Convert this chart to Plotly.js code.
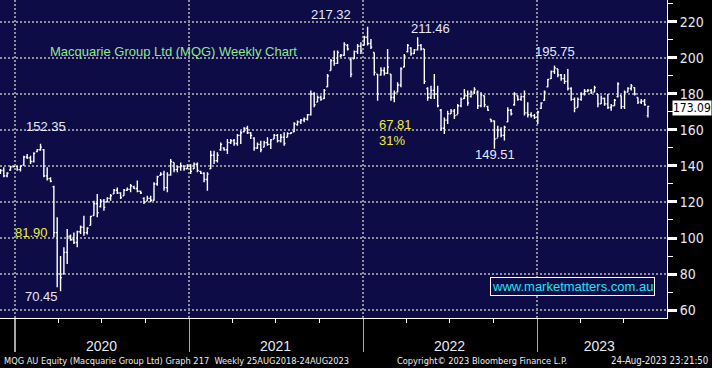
<!DOCTYPE html>
<html>
<head>
<meta charset="utf-8">
<script src="https://cdn.plot.ly/plotly-3.0.1.min.js"></script>
<style>
  html, body { margin: 0; padding: 0; background: #000; }
  #chart { width: 712px; height: 368px; }
</style>
</head>
<body>
<div id="chart"></div>
<script>
// Weekly bars, first week starting 2019-12-02
const firstWeek = '2019-12-02';
const weekCount = 195;

const openPx = [
  136.5,137.5,134.5,137.8,139.5,139.8,138.0,140.5,145.0,144.5,
  142.5,148.0,149.0,149.0,134.5,133.0,128.5,103.0,80.0,80.0,
  92.0,101.0,99.0,97.5,103.5,106.0,103.0,107.0,112.5,119.0,
  117.5,120.5,120.0,122.0,124.5,126.5,125.0,123.5,126.5,127.0,
  128.5,127.5,126.0,122.0,120.5,122.0,121.0,130.0,134.8,135.5,
  128.0,135.0,142.0,138.0,139.5,140.0,138.5,140.0,138.5,141.0,
  137.0,136.0,132.5,138.5,146.0,143.0,149.0,150.0,149.0,153.0,
  154.0,152.5,157.0,159.0,161.0,158.5,155.5,150.0,152.0,150.5,
  153.0,152.0,155.0,157.0,154.0,156.0,156.0,158.0,159.0,163.0,
  164.5,165.5,166.0,168.5,180.0,175.5,178.0,177.5,184.0,193.0,
  198.5,197.0,201.0,201.5,207.0,199.0,199.5,203.5,206.5,207.0,
  211.5,208.0,203.0,191.0,190.5,193.0,191.5,191.0,178.0,181.0,
  185.0,195.0,203.5,205.5,202.5,204.5,207.0,205.0,183.0,178.0,
  182.0,180.0,171.0,161.0,165.5,169.0,170.5,168.5,173.5,177.5,
  179.0,178.5,181.0,181.0,173.5,179.0,173.0,166.0,165.0,155.5,
  160.0,157.0,164.5,171.0,174.0,179.0,177.0,178.5,169.5,168.5,
  168.0,167.0,172.0,176.5,184.0,188.5,192.5,194.0,190.5,188.5,
  187.0,183.0,177.0,172.5,177.0,180.0,181.5,182.0,181.0,180.0,
  174.5,177.5,174.5,172.5,173.5,178.5,179.0,173.0,181.0,183.0,
  183.5,178.0,175.5,176.0,168.0
];
const highPx = [
  138.3,139.3,136.5,140.2,140.2,140.2,140.2,145.7,146.7,145.7,
  147.6,149.4,152.35,149.4,139.3,133.7,129.0,111.5,90.0,94.8,
  105.0,102.0,103.0,104.0,106.9,112.4,106.0,112.4,120.7,124.4,
  121.7,121.7,122.6,124.4,127.2,128.1,125.4,127.2,128.1,130.0,
  129.0,131.9,126.3,122.6,123.5,123.5,130.9,134.6,136.5,137.4,
  136.5,143.9,142.0,140.2,142.0,140.2,141.0,141.0,142.0,142.0,
  137.4,136.5,136.5,148.5,148.5,147.6,153.1,150.4,155.0,155.0,
  155.0,157.8,159.6,161.5,162.4,158.7,155.9,153.1,154.0,154.0,
  155.9,155.0,157.8,157.8,157.8,158.7,158.7,158.7,164.3,165.2,
  166.1,167.0,168.9,181.9,180.9,179.1,179.1,182.8,191.1,199.4,
  204.1,204.1,202.2,208.7,207.8,200.4,204.1,207.8,208.7,212.4,
  217.32,210.6,203.1,191.1,194.8,194.8,205.0,191.1,181.9,186.5,
  194.8,202.2,207.8,205.9,205.0,211.46,207.8,205.0,183.7,184.6,
  191.1,184.6,171.7,167.0,170.7,171.7,171.7,174.4,178.1,182.8,
  181.9,181.9,183.7,181.9,180.9,179.1,173.5,166.1,165.2,162.4,
  161.5,162.4,172.6,171.7,180.9,179.1,179.1,181.9,175.4,169.8,
  168.9,170.7,175.4,181.9,188.3,193.0,195.75,193.9,191.1,191.1,
  193.9,183.7,178.1,178.1,180.9,182.8,182.8,182.8,184.6,180.0,
  179.1,178.1,180.0,174.4,177.2,186.5,179.1,181.9,183.7,185.6,
  183.7,178.1,177.2,177.2,173.5
];
const lowPx = [
  135.6,133.7,133.7,137.4,139.3,137.4,137.0,140.2,143.9,141.1,
  142.0,147.6,148.5,133.7,131.9,130.9,100.4,72.6,70.45,80.0,
  85.6,98.5,96.7,94.8,102.2,101.3,102.0,106.9,112.4,111.5,
  117.0,115.2,119.8,120.7,124.4,124.4,121.7,123.5,126.3,125.4,
  127.2,125.4,124.4,118.9,120.7,119.8,120.7,129.0,134.6,126.3,
  125.4,134.6,136.5,136.5,137.4,137.4,138.3,135.6,138.3,136.5,
  135.6,131.0,126.3,138.3,141.1,142.0,148.5,148.5,146.7,152.2,
  151.3,151.3,152.2,158.7,157.8,155.0,148.5,149.4,147.6,150.4,
  151.3,149.4,155.0,153.1,153.1,151.3,155.9,157.8,158.7,162.4,
  163.3,164.3,165.2,168.0,172.6,175.4,176.3,177.2,183.7,193.0,
  195.7,196.7,200.4,201.3,204.1,189.3,199.4,202.2,202.2,206.9,
  206.9,205.0,190.2,176.3,190.2,190.2,191.1,176.3,175.4,180.9,
  183.7,194.8,203.1,201.3,202.2,204.1,204.1,185.6,176.3,177.2,
  177.2,172.6,159.6,157.8,163.3,168.9,166.1,168.9,172.6,177.2,
  173.5,178.1,180.0,171.7,172.6,172.6,170.7,164.3,149.51,155.9,
  155.9,154.1,164.3,168.0,173.5,176.3,176.3,168.0,167.0,167.0,
  166.1,163.3,171.7,176.3,183.7,188.3,191.1,189.3,187.4,185.6,
  181.9,176.3,169.8,172.6,176.3,179.1,180.9,180.0,180.9,172.6,
  174.4,173.5,171.7,170.7,173.5,178.1,171.7,171.7,180.9,181.9,
  179.1,174.4,174.4,173.5,167.0
];
const closePx = [
  137.5,134.5,136.0,139.5,139.8,138.0,140.0,145.0,144.5,142.5,
  147.0,149.0,150.5,134.5,133.0,131.5,103.0,80.0,78.0,92.0,
  101.0,99.0,97.5,103.5,106.0,103.0,105.5,112.0,119.0,114.0,
  120.5,117.0,122.0,123.5,126.5,125.0,122.5,126.5,127.0,129.0,
  127.5,126.0,125.0,120.0,122.0,121.0,130.0,134.0,135.5,128.0,
  135.0,142.5,138.0,139.5,140.0,138.5,140.0,137.0,141.0,137.5,
  136.0,132.5,135.5,146.0,143.0,146.0,152.0,149.0,153.0,154.0,
  152.5,157.0,158.5,161.0,158.5,157.0,150.0,152.0,149.0,153.0,
  152.0,154.5,157.0,154.0,156.0,152.5,158.0,158.5,163.5,164.5,
  165.5,166.0,168.5,180.0,174.0,178.0,177.0,182.0,190.0,198.5,
  197.0,203.0,201.5,207.5,205.0,191.0,203.5,206.5,204.0,211.5,
  208.0,206.0,192.0,180.0,193.0,191.5,195.0,178.0,180.5,185.0,
  194.0,201.0,207.0,202.5,204.5,207.0,205.0,187.0,178.0,182.0,
  180.0,173.5,161.0,165.5,169.0,170.5,168.0,173.5,177.0,179.0,
  175.0,181.0,182.5,173.5,179.5,174.0,171.0,165.0,155.0,160.0,
  157.0,161.5,171.0,169.0,180.0,177.0,178.5,169.5,168.5,168.0,
  167.0,170.0,175.0,181.0,188.0,192.5,194.5,190.5,188.5,187.0,
  183.0,177.0,172.0,177.0,180.0,181.5,182.0,181.0,183.5,174.5,
  177.5,174.5,172.5,173.5,176.5,185.5,173.0,181.0,183.0,184.5,
  180.0,175.5,176.0,174.0,173.09
];

const yearLabels = ['2020', '2021', '2022', '2023'];
const yearLabelPos = ['2020-07-01', '2021-07-01', '2022-07-01', '2023-05-11'];

// ---- build week dates ----
const weeks = [];
{
  const d0 = new Date(firstWeek + 'T00:00:00Z');
  for (let i = 0; i < weekCount; i++) {
    const d = new Date(d0.getTime() + i * 7 * 86400000);
    weeks.push(d.toISOString().slice(0, 10));
  }
}

function argMax(arr, from, to) { let k = from; for (let i = from; i < to; i++) if (arr[i] > arr[k]) k = i; return k; }
function argMin(arr, from, to) { let k = from; for (let i = from; i < to; i++) if (arr[i] < arr[k]) k = i; return k; }
function idxOf(date) { for (let i = 0; i < weeks.length; i++) if (weeks[i] >= date) return i; return weeks.length; }

const n = weeks.length;
const iLow = argMin(lowPx, 0, n);                       // covid low
const iPeak1 = argMax(highPx, 0, iLow);                 // pre-covid peak
const iTop = argMax(highPx, 0, n);                      // all-time top
const iPeak2 = argMax(highPx, idxOf('2022-03-01'), idxOf('2022-07-01'));
const iLow2 = argMin(lowPx, iTop, n);
const iPeak3 = argMax(highPx, iLow2, n);

const drop1 = highPx[iPeak1] - lowPx[iLow];
const drop2 = highPx[iTop] - lowPx[iLow2];
const drop2Pct = Math.round(drop2 / highPx[iTop] * 100);

const NAVY = '#0e0c47';
const GRID = '#8f8f9a';
const LABEL = '#e4e8f8';
const YELLOW = '#eded2a';
const SANS = 'Liberation Sans, Arial, sans-serif';
const NARROW = 'DejaVu Sans Condensed, Liberation Sans Narrow, sans-serif';
const xRange = ['2019-12-01', '2023-09-30'];

const traces = [
  {
    type: 'ohlc',
    x: weeks, open: openPx, high: highPx, low: lowPx, close: closePx,
    increasing: { line: { color: '#ffffff', width: 1.4 } },
    decreasing: { line: { color: '#ffffff', width: 1.4 } },
    tickwidth: 0.4,
    hoverinfo: 'none',
    showlegend: false
  },
  {
    type: 'scatter', mode: 'markers', x: [weeks[0]], y: [null],
    xaxis: 'x2', yaxis: 'y', showlegend: false, hoverinfo: 'skip'
  }
];

function priceLabel(i, val, xanchor, xshift, yshift) {
  return {
    x: weeks[i], y: val, xref: 'x', yref: 'y', text: val.toFixed(2),
    showarrow: false, xanchor: xanchor, yanchor: 'middle',
    xshift: xshift, yshift: yshift,
    font: { family: SANS, size: 13, color: LABEL }
  };
}

const footY = (318 - 360.5) / 318;

const layout = {
  width: 712, height: 368,
  margin: { l: 0, r: 45, t: 0, b: 50 },
  paper_bgcolor: '#000000',
  plot_bgcolor: NAVY,
  showlegend: false,
  hovermode: false,
  xaxis: {
    type: 'date', range: xRange,
    rangeslider: { visible: false },
    tick0: '2020-01-01', dtick: 'M12',
    showticklabels: false,
    ticks: 'outside', ticklen: 33, tickwidth: 1.5, tickcolor: '#a8a8a8',
    showgrid: true, gridcolor: GRID, gridwidth: 2, griddash: '2px,2px',
    showline: true, linecolor: '#ffffff', linewidth: 1,
    zeroline: false,
    minor: { dtick: 'M3', ticks: 'outside', ticklen: 4, tickwidth: 1, tickcolor: '#ffffff', showgrid: false },
    fixedrange: true
  },
  xaxis2: {
    type: 'date', range: xRange, overlaying: 'x', anchor: 'y', side: 'bottom',
    tickmode: 'array', tickvals: yearLabelPos, ticktext: yearLabels,
    ticks: '', showgrid: false, showline: false, zeroline: false,
    ticklabelstandoff: 18,
    tickfont: { family: SANS, size: 14, color: LABEL },
    fixedrange: true
  },
  yaxis: {
    side: 'right', range: [55.56, 232.2],
    tick0: 60, dtick: 20,
    ticks: 'outside', ticklen: 9, tickwidth: 3, tickcolor: '#ffffff',
    showgrid: true, gridcolor: GRID, gridwidth: 2, griddash: '2px,2px',
    showline: true, linecolor: '#ffffff', linewidth: 1,
    zeroline: false,
    tickfont: { family: NARROW, size: 14, color: LABEL },
    minor: { dtick: 10, ticks: 'outside', ticklen: 5, tickwidth: 1, tickcolor: '#ffffff', showgrid: false },
    fixedrange: true
  },
  annotations: [
    { xref: 'paper', yref: 'paper', x: 48 / 667, y: 1 - 52 / 318, xanchor: 'left', yanchor: 'middle',
      text: 'Macquarie Group Ltd (MQG) Weekly Chart', showarrow: false,
      font: { family: SANS, size: 13, color: '#8ee68e' } },
    priceLabel(iPeak1, highPx[iPeak1], 'center', 5, 17),
    priceLabel(iLow, lowPx[iLow], 'center', -19, -5),
    priceLabel(iTop, highPx[iTop], 'right', -15, 12),
    priceLabel(iPeak2, highPx[iPeak2], 'left', -9, 9),
    priceLabel(iPeak3, highPx[iPeak3], 'center', 1, 14),
    priceLabel(iLow2, lowPx[iLow2], 'center', 1, -6),
    { xref: 'paper', yref: 'y', x: 31 / 667, y: 102.8, xanchor: 'center', yanchor: 'middle',
      text: drop1.toFixed(2), showarrow: false, font: { family: SANS, size: 13, color: YELLOW } },
    { xref: 'paper', yref: 'y', x: 377 / 667, y: 163.1, xanchor: 'left', yanchor: 'middle',
      text: drop2.toFixed(2), showarrow: false, font: { family: SANS, size: 13, color: YELLOW } },
    { xref: 'paper', yref: 'y', x: 377 / 667, y: 154.2, xanchor: 'left', yanchor: 'middle',
      text: drop2Pct + '%', showarrow: false, font: { family: SANS, size: 13, color: YELLOW } },
    { xref: 'paper', yref: 'y', x: 1, y: closePx[n - 1], xanchor: 'left', yanchor: 'middle', xshift: 5, yshift: -2,
      text: closePx[n - 1].toFixed(2), showarrow: false, bgcolor: '#ffffff', borderpad: 0,
      font: { family: NARROW, size: 12, color: '#000000' } },
    { xref: 'paper', yref: 'paper', x: 572.5 / 667, y: 1 - 286.5 / 318, xanchor: 'center', yanchor: 'middle',
      text: 'www.marketmatters.com.au', showarrow: false,
      bordercolor: '#ffffff', borderwidth: 1, borderpad: 1, bgcolor: NAVY,
      font: { family: SANS, size: 13, color: '#1fe3ef' } },
    { xref: 'paper', yref: 'paper', x: 2 / 667, y: footY, xanchor: 'left', yanchor: 'middle',
      text: 'MQG AU Equity (Macquarie Group Ltd) Graph 217  Weekly 25AUG2018-24AUG2023', showarrow: false,
      font: { family: NARROW, size: 9.2, color: '#ececec' } },
    { xref: 'paper', yref: 'paper', x: 395 / 667, y: footY, xanchor: 'left', yanchor: 'middle',
      text: 'Copyright\u00a9 2023 Bloomberg Finance L.P.', showarrow: false,
      font: { family: NARROW, size: 9.2, color: '#ececec' } },
    { xref: 'paper', yref: 'paper', x: 710 / 667, y: footY, xanchor: 'right', yanchor: 'middle',
      text: '24-Aug-2023 23:21:50', showarrow: false,
      font: { family: NARROW, size: 9.6, color: '#ececec' } }
  ]
};

Plotly.newPlot('chart', traces, layout, { staticPlot: true, displayModeBar: false });
</script>
</body>
</html>
